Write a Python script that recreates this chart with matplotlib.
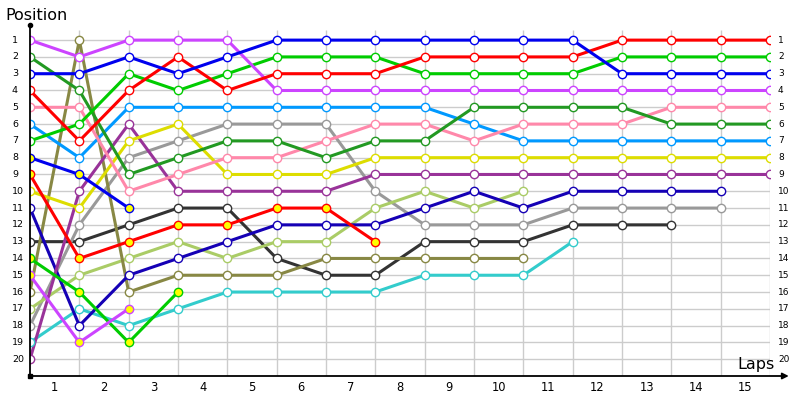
import numpy as np
import matplotlib
matplotlib.use("Agg")
import matplotlib.pyplot as plt

laps = list(range(1, 16))
positions_axis = list(range(1, 21))

# position of each driver at each lap boundary (index 0 = start)
violet = [1, 2, 1, 1, 1, 4, 4, 4, 4, 4, 4, 4, 4, 4, 4, 4]
dkgreen = [2, 4, 9, 8, 7, 7, 8, 7, 7, 5, 5, 5, 5, 6, 6, 6]
blue = [3, 3, 2, 3, 2, 1, 1, 1, 1, 1, 1, 1, 3, 3, 3, 3]
red = [4, 7, 4, 2, 4, 3, 3, 3, 2, 2, 2, 2, 1, 1, 1, 1]
pink = [5, 5, 10, 9, 8, 8, 7, 6, 6, 7, 6, 6, 6, 5, 5, 5]
ltblue = [6, 8, 5, 5, 5, 5, 5, 5, 5, 6, 7, 7, 7, 7, 7, 7]
green = [7, 6, 3, 4, 3, 2, 2, 2, 3, 3, 3, 3, 2, 2, 2, 2]
blue2 = [8, 9, 11]
red2 = [9, 14, 13, 12, 12, 11, 11, 13]
yellow = [10, 11, 7, 6, 9, 9, 9, 8, 8, 8, 8, 8, 8, 8, 8, 8]
dkblue = [11, 18, 15, 14, 13, 12, 12, 12, 11, 10, 11, 10, 10, 10, 10]
black = [13, 13, 12, 11, 11, 14, 15, 15, 13, 13, 13, 12, 12, 12]
green2 = [14, 16, 19, 16]
violet2 = [15, 19, 17]
olive = [16, 1, 16, 15, 15, 15, 14, 14, 14, 14, 14]
ygreen = [17, 15, 14, 13, 14, 13, 13, 11, 10, 11, 10]
grey = [18, 12, 8, 7, 6, 6, 6, 10, 12, 12, 12, 11, 11, 11, 11]
cyan = [19, 17, 18, 17, 16, 16, 16, 16, 15, 15, 15, 13]
purple = [20, 10, 6, 10, 10, 10, 10, 9, 9, 9, 9, 9, 9, 9, 9, 9]

# (series, colour, retired)
drivers = [
    (cyan, "#33CCCC", False),
    (black, "#333333", False),
    (grey, "#999999", False),
    (ygreen, "#AACC66", False),
    (olive, "#888844", False),
    (dkblue, "#1500B5", False),
    (purple, "#993399", False),
    (yellow, "#DDDD00", False),
    (ltblue, "#0099FF", False),
    (pink, "#FF88AA", False),
    (dkgreen, "#229922", False),
    (green, "#00CC00", False),
    (violet, "#CC44FF", False),
    (red, "#FF0000", False),
    (blue, "#0000EE", False),
    (blue2, "#0000EE", True),
    (red2, "#FF0000", True),
    (green2, "#00CC00", True),
    (violet2, "#CC44FF", True),
]

fig = plt.figure(figsize=(8, 4), dpi=100)
ax = fig.add_axes([30 / 800, 24 / 400, 740 / 800, 351 / 400])
ax.set_xlim(0, 15)
ax.set_ylim(21, 0.1)
ax.axis("off")

grid_c = "#CCCCCC"
for p in positions_axis:
    ax.plot([0, 15], [p, p], color=grid_c, lw=1, zorder=1, solid_capstyle="butt")
for k in range(1, 16):
    ax.plot([k, k], [0.4, 21], color=grid_c, lw=1, zorder=1, solid_capstyle="butt")

for series, col, retired in drivers:
    xs = np.arange(len(series))
    ax.plot(xs, series, color=col, lw=2.2, zorder=3, solid_joinstyle="round")
    ax.plot(xs, series, linestyle="none", marker="o", ms=6.0, mew=1.0,
            mec=col, mfc="#FFFF00" if retired else "white", zorder=4)

# axes lines
ax.plot([0, 0], [0.1, 21], color="black", lw=1.3, zorder=5, clip_on=False)
ax.plot([0], [0.1], marker="o", ms=3, color="black", clip_on=False, zorder=5)
ax.plot([0], [21], marker="s", ms=2.5, color="black", clip_on=False, zorder=5)
ax.annotate("", xy=(15.38, 21), xytext=(0, 21),
            arrowprops=dict(arrowstyle="-|>", color="black", lw=1.3,
                            mutation_scale=9, shrinkA=0, shrinkB=0),
            annotation_clip=False, zorder=5)

# tick labels
for p in positions_axis:
    ax.text(-0.365, p, str(p), ha="left", va="center", fontsize=6.8,
            color="#000000", clip_on=False)
    ax.text(15.16, p, str(p), ha="left", va="center", fontsize=6.5,
            color="#000000", clip_on=False)
for i in laps:
    ax.text(i - 0.5, 21.7, str(i), ha="center", va="center", fontsize=8.3,
            color="#000000", clip_on=False)

fig.text(5 / 800, 1 - 16 / 400, "Position", ha="left", va="center", fontsize=11.5)
fig.text(775 / 800, 1 - 365 / 400, "Laps", ha="right", va="center", fontsize=11.5)

fig.savefig("out.png", dpi=100)
